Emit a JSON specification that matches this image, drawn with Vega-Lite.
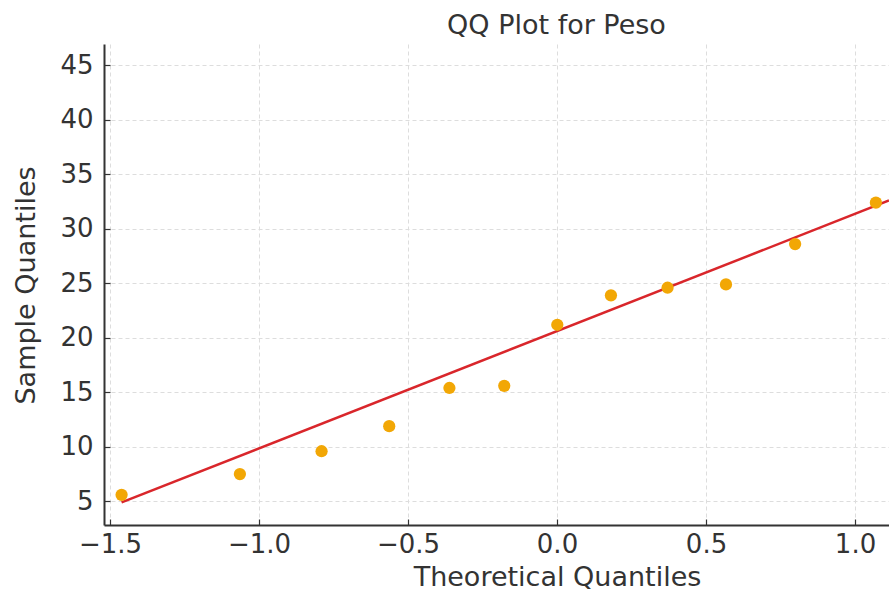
{
  "$schema": "https://vega.github.io/schema/vega-lite/v6.json",
  "width": 785,
  "height": 481,
  "autosize": {"type": "none"},
  "padding": {"left": 104, "top": 44, "right": 0, "bottom": 65},
  "background": "white",
  "title": {
    "text": "QQ Plot for Peso",
    "font": "DejaVu Sans",
    "fontSize": 27,
    "fontWeight": "normal",
    "color": "#333333",
    "anchor": "middle",
    "frame": "group",
    "baseline": "alphabetic",
    "offset": 11,
    "dx": 60,
    "dy": 28
  },
  "datasets": {
    "points": [
      {"theoretical": -1.461, "sample": 5.6},
      {"theoretical": -1.064, "sample": 7.5},
      {"theoretical": -0.790, "sample": 9.6},
      {"theoretical": -0.563, "sample": 11.9},
      {"theoretical": -0.361, "sample": 15.4},
      {"theoretical": -0.177, "sample": 15.6},
      {"theoretical": 0.001, "sample": 21.2},
      {"theoretical": 0.181, "sample": 23.9},
      {"theoretical": 0.371, "sample": 24.6},
      {"theoretical": 0.567, "sample": 24.9},
      {"theoretical": 0.799, "sample": 28.6},
      {"theoretical": 1.070, "sample": 32.4}
    ],
    "fit": [
      {"theoretical": -1.461, "sample": 4.9},
      {"theoretical": 1.114, "sample": 32.6}
    ]
  },
  "encoding": {
    "x": {
      "field": "theoretical",
      "type": "quantitative",
      "scale": {"domain": [-1.52, 1.114], "nice": false, "zero": false},
      "axis": {
        "title": "Theoretical Quantiles",
        "values": [-1.5, -1.0, -0.5, 0.0, 0.5, 1.0],
        "format": ".1f",
        "titleX": 453,
        "titleY": 60,
        "titleBaseline": "alphabetic",
        "labelPadding": 12
      }
    },
    "y": {
      "field": "sample",
      "type": "quantitative",
      "scale": {"domain": [2.83, 46.96], "nice": false, "zero": false},
      "axis": {
        "title": "Sample Quantiles",
        "values": [5, 10, 15, 20, 25, 30, 35, 40, 45],
        "format": "d",
        "titleX": -70,
        "titleY": 241,
        "titleBaseline": "alphabetic",
        "titleAlign": "center",
        "labelPadding": 17
      }
    }
  },
  "layer": [
    {
      "data": {"name": "fit"},
      "mark": {"type": "line", "color": "#d9262b", "strokeWidth": 2.5, "clip": true},
      "encoding": {}
    },
    {
      "data": {"name": "points"},
      "mark": {"type": "circle", "color": "#f2a705", "opacity": 1, "size": 150, "clip": true},
      "encoding": {}
    }
  ],
  "config": {
    "font": "DejaVu Sans",
    "view": {"stroke": null},
    "axis": {
      "domainColor": "#333333",
      "domainWidth": 2,
      "tickColor": "#333333",
      "tickWidth": 1.2,
      "tickSize": -6,
      "labelFont": "DejaVu Sans",
      "labelFontSize": 26,
      "labelColor": "#333333",
      "titleFont": "DejaVu Sans",
      "titleFontSize": 27,
      "titleFontWeight": "normal",
      "titleColor": "#333333",
      "grid": true,
      "gridColor": "#dddddd",
      "gridWidth": 1,
      "gridDash": [4, 3],
      "labelFlush": false,
      "labelOverlap": false
    }
  }
}
